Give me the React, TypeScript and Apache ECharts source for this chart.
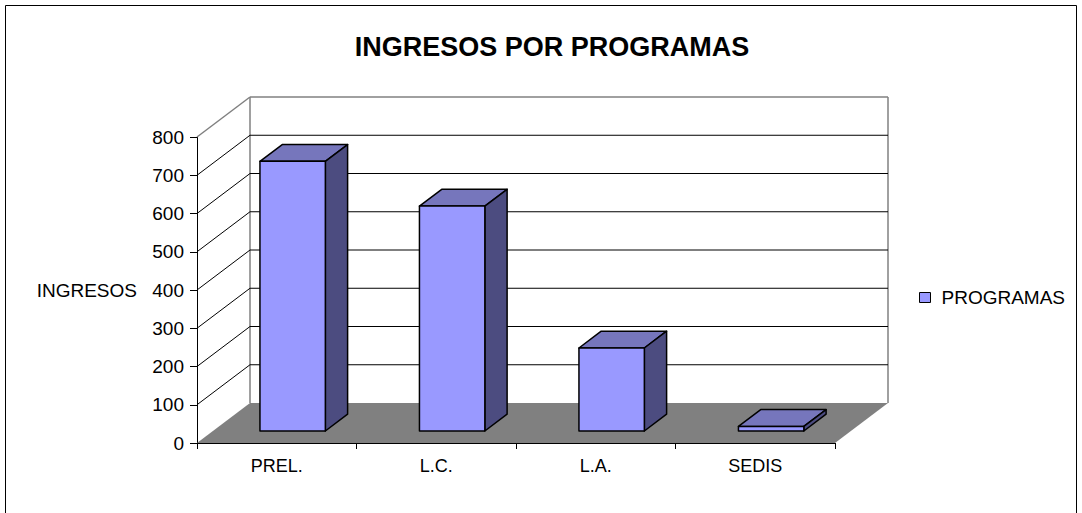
import React, { useEffect, useRef } from "react";
import * as echarts from "echarts";

const CATEGORIES = ["PREL.", "L.C.", "L.A.", "SEDIS"];
const SERIES_NAME = "PROGRAMAS";
const VALUES = [705, 588, 217, 12];
const Y_TICKS = [0, 100, 200, 300, 400, 500, 600, 700, 800];
const TITLE = "INGRESOS POR PROGRAMAS";
const Y_NAME = "INGRESOS";

const FONT = "'Liberation Sans', Arial, sans-serif";
const DEPTH_X = 53;
const DEPTH_Y = -40;
const BAR_RATIO = 0.41;
const BAR_DEPTH_START = 0.3;
const BAR_DEPTH_LEN = 0.42;
const FRONT = "#9999FF";
const TOP = "#7676BC";
const SIDE = "#4C4C80";
const WALL_BORDER = "#808080";
const FLOOR = "#808080";

export default function App() {
  const ref = useRef<HTMLDivElement>(null);
  useEffect(() => {
    document.body.style.margin = "0";
    const chart = echarts.init(ref.current!, null, { renderer: "svg" });
    const yMax = Y_TICKS[Y_TICKS.length - 1];
    chart.setOption({
      animation: false,
      backgroundColor: "#fff",
      title: {
        text: TITLE,
        left: 547,
        textAlign: "center",
        top: 28,
        textStyle: { fontFamily: FONT, fontSize: 27, fontWeight: "bold", color: "#000" },
      },
      legend: {
        left: 914,
        top: 283,
        itemWidth: 11,
        itemHeight: 10,
        data: [
          {
            name: SERIES_NAME,
            icon: "rect",
            itemStyle: { color: FRONT, borderColor: "#000", borderWidth: 1 },
          },
        ],
        textStyle: { fontFamily: FONT, fontSize: 19, color: "#000", padding: [0, 0, 0, 6] },
      },
      graphic: [
        {
          type: "rect",
          shape: { x: 5.5, y: 5.5, width: 1071, height: 540 },
          style: { fill: "none", stroke: "#000", lineWidth: 1 },
          silent: true,
        },
      ],
      grid: { left: 197, top: 137, width: 638, height: 306, containLabel: false },
      xAxis: {
        type: "category",
        data: CATEGORIES,
        axisLine: { lineStyle: { color: "#000", width: 1 } },
        axisTick: { show: true, length: 6, lineStyle: { color: "#000" } },
        axisLabel: { margin: 14, fontFamily: FONT, fontSize: 18, color: "#000" },
        splitLine: { show: false },
      },
      yAxis: {
        type: "value",
        min: 0,
        max: yMax,
        interval: 100,
        name: Y_NAME,
        nameLocation: "middle",
        nameRotate: 0,
        nameGap: 60,
        nameTextStyle: { fontFamily: FONT, fontSize: 19, color: "#000" },
        axisLine: { show: true, lineStyle: { color: "#000", width: 1 } },
        axisTick: { show: true, length: 7, lineStyle: { color: "#000" } },
        axisLabel: { margin: 13, fontFamily: FONT, fontSize: 19, color: "#000" },
        splitLine: { show: false },
      },
      series: [
        {
          name: "walls",
          type: "custom",
          z: 1,
          silent: true,
          clip: false,
          encode: { x: 0, y: 1 },
          data: Y_TICKS.map((t) => [0, t]),
          renderItem: (params: any, api: any) => {
            const cs = params.coordSys;
            const t = api.value(1);
            const y = api.coord([0, t])[1];
            const lx = cs.x;
            const rx = cs.x + cs.width;
            const children: any[] = [];
            if (t === 0) {
              const yTop = api.coord([0, yMax])[1];
              children.push({
                type: "line",
                shape: { x1: lx + DEPTH_X, y1: yTop + DEPTH_Y, x2: lx + DEPTH_X, y2: y + DEPTH_Y },
                style: { stroke: WALL_BORDER, lineWidth: 1.5 },
              });
              children.push({
                type: "line",
                shape: { x1: rx + DEPTH_X, y1: yTop + DEPTH_Y, x2: rx + DEPTH_X, y2: y + DEPTH_Y },
                style: { stroke: WALL_BORDER, lineWidth: 1.5 },
              });
              return { type: "group", children };
            }
            const color = t === yMax ? WALL_BORDER : "#000";
            const lw = t === yMax ? 1.5 : 1;
            children.push({
              type: "line",
              shape: { x1: lx, y1: y, x2: lx + DEPTH_X, y2: y + DEPTH_Y },
              style: { stroke: color, lineWidth: lw },
            });
            children.push({
              type: "line",
              shape: { x1: lx + DEPTH_X, y1: y + DEPTH_Y, x2: rx + DEPTH_X, y2: y + DEPTH_Y },
              style: { stroke: color, lineWidth: lw },
            });
            return { type: "group", children };
          },
        },
        {
          name: "floor",
          type: "custom",
          z: 2,
          silent: true,
          clip: false,
          encode: { x: 0, y: 1 },
          data: [[0, 0]],
          renderItem: (params: any, api: any) => {
            const cs = params.coordSys;
            const y0 = api.coord([0, 0])[1];
            const lx = cs.x;
            const rx = cs.x + cs.width;
            return {
              type: "polygon",
              shape: {
                points: [
                  [lx, y0],
                  [rx, y0],
                  [rx + DEPTH_X, y0 + DEPTH_Y],
                  [lx + DEPTH_X, y0 + DEPTH_Y],
                ],
              },
              style: { fill: FLOOR, stroke: "none" },
            };
          },
        },
        {
          name: SERIES_NAME,
          type: "custom",
          z: 3,
          clip: false,
          itemStyle: { color: FRONT, borderColor: "#000", borderWidth: 1 },
          encode: { x: 0, y: 1 },
          data: VALUES.map((v, i) => [i, v]),
          renderItem: (params: any, api: any) => {
            const i = api.value(0);
            const v = api.value(1);
            const base = api.coord([i, 0]);
            const top = api.coord([i, v]);
            const w = api.size([1, 0])[0] * BAR_RATIO;
            const ox = DEPTH_X * BAR_DEPTH_START;
            const oy = DEPTH_Y * BAR_DEPTH_START;
            const dx = DEPTH_X * BAR_DEPTH_LEN;
            const dy = DEPTH_Y * BAR_DEPTH_LEN;
            const x0 = base[0] - w / 2 + ox;
            const x1 = x0 + w;
            const yb = base[1] + oy;
            const yt = top[1] + oy;
            const stroke = { stroke: "#000", lineWidth: 1.5, lineJoin: "round" };
            return {
              type: "group",
              children: [
                {
                  type: "polygon",
                  shape: { points: [[x0, yt], [x1, yt], [x1 + dx, yt + dy], [x0 + dx, yt + dy]] },
                  style: { fill: TOP, ...stroke },
                },
                {
                  type: "polygon",
                  shape: { points: [[x1, yb], [x1, yt], [x1 + dx, yt + dy], [x1 + dx, yb + dy]] },
                  style: { fill: SIDE, ...stroke },
                },
                {
                  type: "rect",
                  shape: { x: x0, y: yt, width: w, height: yb - yt },
                  style: { fill: FRONT, ...stroke },
                },
              ],
            };
          },
        },
      ],
    });
    return () => chart.dispose();
  }, []);
  return <div ref={ref} style={{ width: 1082, height: 513 }} />;
}
